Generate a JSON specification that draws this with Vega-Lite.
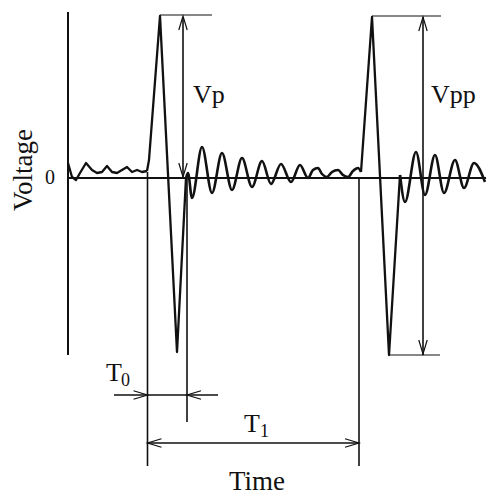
{
  "$schema": "https://vega.github.io/schema/vega-lite/v6.json",
  "width": 486,
  "height": 496,
  "autosize": "none",
  "padding": 0,
  "background": "white",
  "config": {"view": {"stroke": null}},
  "datasets": {
    "trace": [
      {"seg": "a", "t": 68, "v": 15}, {"seg": "a", "t": 72, "v": 1}, {"seg": "a", "t": 76, "v": -2}, {"seg": "a", "t": 80, "v": 5}, {"seg": "a", "t": 86, "v": 15},
      {"seg": "a", "t": 92, "v": 8}, {"seg": "a", "t": 97, "v": 5}, {"seg": "a", "t": 102, "v": 6}, {"seg": "a", "t": 107, "v": 12}, {"seg": "a", "t": 112, "v": 6},
      {"seg": "a", "t": 117, "v": 5}, {"seg": "a", "t": 122, "v": 8}, {"seg": "a", "t": 127, "v": 11}, {"seg": "a", "t": 132, "v": 6}, {"seg": "a", "t": 137, "v": 8},
      {"seg": "a", "t": 142, "v": 6}, {"seg": "a", "t": 147, "v": 7},
      {"seg": "b", "t": 147, "v": 7}, {"seg": "b", "t": 149, "v": 18}, {"seg": "b", "t": 160, "v": 162}, {"seg": "b", "t": 177, "v": -174}, {"seg": "b", "t": 186, "v": 0},
      {"seg": "c", "t": 186, "v": 0}, {"seg": "c", "t": 188, "v": 5}, {"seg": "c", "t": 192, "v": -20}, {"seg": "c", "t": 202, "v": 31}, {"seg": "c", "t": 212, "v": -15},
      {"seg": "c", "t": 222, "v": 25}, {"seg": "c", "t": 232, "v": -12}, {"seg": "c", "t": 242, "v": 20}, {"seg": "c", "t": 252, "v": -9}, {"seg": "c", "t": 262, "v": 17},
      {"seg": "c", "t": 271, "v": -6}, {"seg": "c", "t": 281, "v": 14}, {"seg": "c", "t": 291, "v": -4}, {"seg": "c", "t": 300, "v": 13}, {"seg": "c", "t": 308, "v": 0},
      {"seg": "c", "t": 313, "v": 8}, {"seg": "c", "t": 318, "v": 10}, {"seg": "c", "t": 322, "v": 4}, {"seg": "c", "t": 327, "v": 1}, {"seg": "c", "t": 332, "v": 6},
      {"seg": "c", "t": 338, "v": 8}, {"seg": "c", "t": 343, "v": 3}, {"seg": "c", "t": 348, "v": 1}, {"seg": "c", "t": 353, "v": 7}, {"seg": "c", "t": 358, "v": 10},
      {"seg": "c", "t": 361, "v": 6},
      {"seg": "d", "t": 361, "v": 6}, {"seg": "d", "t": 372, "v": 161}, {"seg": "d", "t": 389, "v": -177}, {"seg": "d", "t": 400, "v": 3},
      {"seg": "e", "t": 400, "v": 3}, {"seg": "e", "t": 405, "v": -24},
      {"seg": "e", "t": 416, "v": 26}, {"seg": "e", "t": 425, "v": -17}, {"seg": "e", "t": 435, "v": 23}, {"seg": "e", "t": 444, "v": -15}, {"seg": "e", "t": 455, "v": 18},
      {"seg": "e", "t": 464, "v": -10}, {"seg": "e", "t": 474, "v": 15}, {"seg": "e", "t": 485, "v": -4}
    ],
    "segments": [
      {"t": 68, "t2": 68, "v": 166, "v2": -177, "kind": "axis"},
      {"t": 68, "t2": 486, "v": 0, "v2": 0, "kind": "axis"},
      {"t": 147.5, "t2": 147.5, "v": 6, "v2": -288, "kind": "guide"},
      {"t": 187, "t2": 187, "v": 0, "v2": -244, "kind": "guide"},
      {"t": 359, "t2": 359, "v": 0, "v2": -288, "kind": "guide"},
      {"t": 183, "t2": 183, "v": 161, "v2": 1, "kind": "guide"},
      {"t": 160, "t2": 212, "v": 163, "v2": 163, "kind": "cap"},
      {"t": 423, "t2": 423, "v": 161, "v2": -177, "kind": "guide"},
      {"t": 372, "t2": 441, "v": 162, "v2": 162, "kind": "cap"},
      {"t": 389, "t2": 440, "v": -177, "v2": -177, "kind": "cap"},
      {"t": 114, "t2": 218, "v": -217, "v2": -217, "kind": "guide"},
      {"t": 147.5, "t2": 359, "v": -265, "v2": -265, "kind": "guide"}
    ],
    "arrows": [
      {"t": 183, "v": 162, "dir": "up"},
      {"t": 183, "v": 1, "dir": "down"},
      {"t": 423, "v": 161, "dir": "up"},
      {"t": 423, "v": -176, "dir": "down"},
      {"t": 147.5, "v": -217, "dir": "right"},
      {"t": 187, "v": -217, "dir": "left"},
      {"t": 147.5, "v": -265, "dir": "left"},
      {"t": 359, "v": -265, "dir": "right"}
    ],
    "labels": [
      {"t": 193, "v": 75, "label": "Vp", "role": "main"},
      {"t": 431, "v": 75, "label": "Vpp", "role": "main"},
      {"t": 106, "v": -203, "label": "T", "role": "main"},
      {"t": 121, "v": -208, "label": "0", "role": "sub"},
      {"t": 244, "v": -254, "label": "T", "role": "main"},
      {"t": 260, "v": -259, "label": "1", "role": "sub"}
    ]
  },
  "encoding": {
    "x": {"field": "t", "type": "quantitative", "scale": {"domain": [0, 486], "nice": false, "zero": false}, "axis": null},
    "y": {"field": "v", "type": "quantitative", "scale": {"domain": [-318, 178], "nice": false, "zero": false}, "axis": null}
  },
  "layer": [
    {
      "data": {"name": "segments"},
      "mark": {"type": "rule", "color": "#111", "strokeCap": "butt"},
      "encoding": {
        "x2": {"field": "t2"},
        "y2": {"field": "v2"},
        "strokeWidth": {"field": "kind", "type": "nominal", "scale": {"domain": ["axis", "guide", "cap"], "range": [2, 1.2, 1.5]}, "legend": null}
      }
    },
    {
      "data": {"name": "trace"},
      "transform": [{"filter": "datum.seg === 'a' || datum.seg === 'b' || datum.seg === 'd'"}],
      "mark": {"type": "line", "color": "#111", "strokeWidth": 2.3, "strokeJoin": "round"},
      "encoding": {"detail": {"field": "seg", "type": "nominal"}}
    },
    {
      "data": {"name": "trace"},
      "transform": [{"filter": "datum.seg === 'c' || datum.seg === 'e'"}],
      "mark": {"type": "line", "color": "#111", "strokeWidth": 2.6, "strokeJoin": "round", "interpolate": "monotone"},
      "encoding": {"detail": {"field": "seg", "type": "nominal"}}
    },
    {
      "data": {"name": "arrows"},
      "transform": [{"filter": "datum.dir === 'up'"}],
      "mark": {"type": "point", "shape": "M-0.6,2L0,0L0.6,2", "filled": false, "stroke": "#111", "strokeWidth": 1.2, "size": 196, "opacity": 1, "angle": 0},
      "encoding": {}
    },
    {
      "data": {"name": "arrows"},
      "transform": [{"filter": "datum.dir === 'down'"}],
      "mark": {"type": "point", "shape": "M-0.6,2L0,0L0.6,2", "filled": false, "stroke": "#111", "strokeWidth": 1.2, "size": 196, "opacity": 1, "angle": 180},
      "encoding": {}
    },
    {
      "data": {"name": "arrows"},
      "transform": [{"filter": "datum.dir === 'right'"}],
      "mark": {"type": "point", "shape": "M-0.6,2L0,0L0.6,2", "filled": false, "stroke": "#111", "strokeWidth": 1.2, "size": 196, "opacity": 1, "angle": 90},
      "encoding": {}
    },
    {
      "data": {"name": "arrows"},
      "transform": [{"filter": "datum.dir === 'left'"}],
      "mark": {"type": "point", "shape": "M-0.6,2L0,0L0.6,2", "filled": false, "stroke": "#111", "strokeWidth": 1.2, "size": 196, "opacity": 1, "angle": 270},
      "encoding": {}
    },
    {
      "data": {"name": "labels"},
      "mark": {"type": "text", "font": "Liberation Serif", "align": "left", "baseline": "alphabetic", "color": "#111"},
      "encoding": {
        "text": {"field": "label"},
        "size": {"field": "role", "type": "nominal", "scale": {"domain": ["main", "sub"], "range": [26, 18]}, "legend": null}
      }
    },
    {
      "data": {"values": [{"t": 257, "v": -312, "label": "Time"}]},
      "mark": {"type": "text", "font": "Liberation Serif", "fontSize": 27, "align": "center", "baseline": "alphabetic", "color": "#111"},
      "encoding": {"text": {"field": "label"}}
    },
    {
      "data": {"values": [{"t": 50, "v": 0, "label": "0"}]},
      "mark": {"type": "text", "font": "Liberation Serif", "fontSize": 20, "align": "center", "baseline": "middle", "color": "#111"},
      "encoding": {"text": {"field": "label"}}
    },
    {
      "data": {"values": [{"t": 24, "v": 8, "label": "Voltage"}]},
      "mark": {"type": "text", "font": "Liberation Serif", "fontSize": 27, "angle": 270, "align": "center", "baseline": "middle", "color": "#111"},
      "encoding": {"text": {"field": "label"}}
    }
  ]
}
